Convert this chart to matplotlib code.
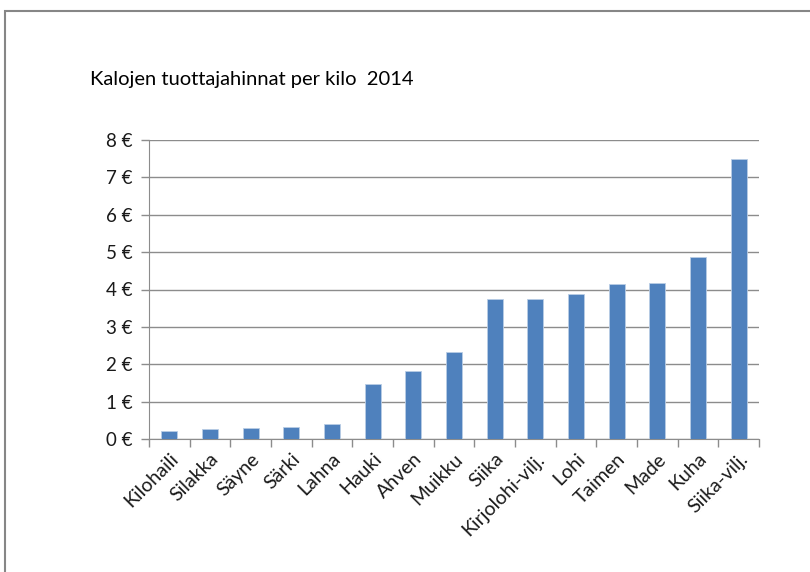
import matplotlib
matplotlib.use('Agg')
import matplotlib.pyplot as plt
from matplotlib.patches import Rectangle
from matplotlib.ticker import FuncFormatter, FixedLocator

fish = ['Kilohaili', 'Silakka', 'Säyne', 'Särki', 'Lahna', 'Hauki', 'Ahven', 'Muikku',
        'Siika', 'Kirjolohi-vilj.', 'Lohi', 'Taimen', 'Made', 'Kuha', 'Siika-vilj.']
price = [0.21, 0.27, 0.29, 0.33, 0.41, 1.47, 1.82, 2.33,
         3.74, 3.74, 3.88, 4.14, 4.18, 4.86, 7.50]

plt.rcParams['font.family'] = ['Lato', 'DejaVu Sans']

fig = plt.figure(figsize=(8.1, 5.72), dpi=100)
W, H = 810, 572
ax = fig.add_axes([149 / W, 1 - 439 / H, 610 / W, 299 / H])

# outer chart frame (runs off the right and bottom edges)
fig.patches.append(Rectangle((5 / W, -0.1), 1.2, 1 - 11 / H + 0.1, transform=fig.transFigure,
                             fill=False, edgecolor='#868686', linewidth=1.5))

x = range(len(fish))
ax.bar(x, price, width=0.4, color='#4f81bd', edgecolor='#b9cde5', linewidth=0.6, zorder=3)

ax.set_xlim(-0.5, len(fish) - 0.5)
ax.set_ylim(0, 8)
ax.set_yticks(range(0, 9))
ax.yaxis.set_major_formatter(FuncFormatter(lambda v, p: f'{int(v)} €'))
ax.grid(axis='y', color='#8c8c8c', linewidth=1, zorder=0)

ax.set_xticks(list(x))
ax.set_xticklabels(fish, rotation=45, ha='right', rotation_mode='anchor', fontsize=14, color='#1a1a1a')
ax.tick_params(axis='x', length=0, pad=8)
ax.xaxis.set_minor_locator(FixedLocator([i - 0.5 for i in range(len(fish) + 1)]))
ax.tick_params(axis='x', which='minor', length=6, color='#8c8c8c', width=1)
ax.tick_params(axis='y', length=6, color='#8c8c8c', width=1, labelsize=13.5, labelcolor='#1a1a1a', pad=6)

for s in ['top', 'right']:
    ax.spines[s].set_visible(False)
ax.spines['left'].set_color('#8c8c8c')
ax.spines['bottom'].set_color('#8c8c8c')

fig.text(252 / W, 1 - 79 / H, 'Kalojen tuottajahinnat per kilo  2014', ha='center', va='center',
         fontsize=14.5, color='black')

fig.savefig('out.png', dpi=100)
